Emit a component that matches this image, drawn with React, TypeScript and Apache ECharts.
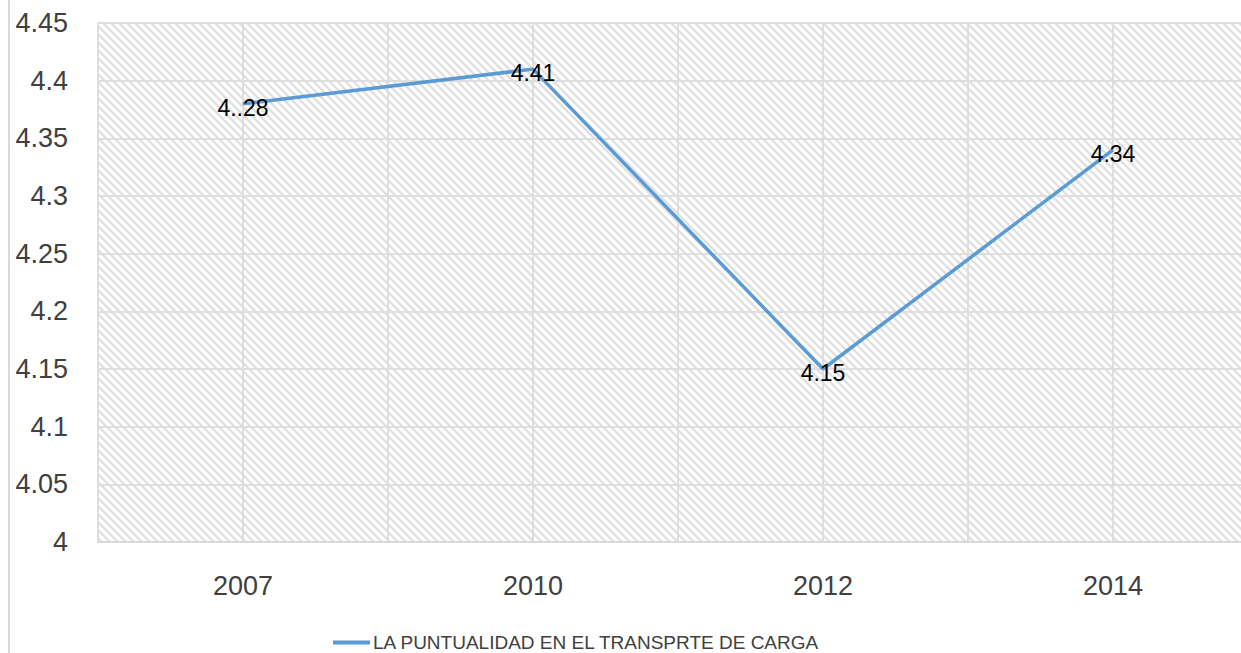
import React, { useEffect, useRef } from "react";
import * as echarts from "echarts";

const categories = ["2007", "2010", "2012", "2014"];
const values = [4.38, 4.41, 4.15, 4.34];
const pointLabels = ["4..28", "4.41", "4.15", "4.34"];
const seriesName = "LA PUNTUALIDAD EN EL TRANSPRTE DE CARGA";
const gridLineSlots = ["", "", "", "", "", "", "", ""];

function makeHatch(): string {
  const c = document.createElement("canvas");
  const s = 8;
  c.width = s;
  c.height = s;
  const ctx = c.getContext("2d")!;
  ctx.fillStyle = "#ffffff";
  ctx.fillRect(0, 0, s, s);
  ctx.strokeStyle = "#e0e0e0";
  ctx.lineWidth = 2.3;
  ctx.beginPath();
  ctx.moveTo(-2, -2);
  ctx.lineTo(s + 2, s + 2);
  ctx.moveTo(-2, s - 2);
  ctx.lineTo(2, s + 2);
  ctx.moveTo(s - 2, -2);
  ctx.lineTo(s + 2, 2);
  ctx.stroke();
  return c.toDataURL();
}

export default function App() {
  const ref = useRef<HTMLDivElement>(null);
  useEffect(() => {
    if (!ref.current) return;
    const chart = echarts.init(ref.current, undefined, { renderer: "svg" });
    const hatch = makeHatch();
    const gridLeft = 98;
    const gridTop = 23;
    const gridWidth = 1160;
    const gridHeight = 519;
    chart.setOption({
      animation: false,
      backgroundColor: "#ffffff",
      textStyle: { fontFamily: "'Liberation Sans', Arial, sans-serif" },
      grid: { left: gridLeft, top: gridTop, width: gridWidth, height: gridHeight },
      graphic: [
        {
          type: "rect",
          z: -10,
          silent: true,
          shape: { x: gridLeft, y: gridTop, width: gridWidth, height: gridHeight },
          style: { fill: { image: hatch, repeat: "repeat" } as any },
        },
        {
          type: "line",
          silent: true,
          shape: { x1: 9, y1: 0, x2: 9, y2: 653 },
          style: { stroke: "#d9d9d9", lineWidth: 2 },
        },
      ],
      legend: {
        left: 328,
        top: 628,
        itemWidth: 37,
        itemHeight: 4,
        itemGap: 10,
        textStyle: {
          fontSize: 19,
          color: "#404040",
          padding: [0, 0, 0, -2],
        },
        data: [{ name: seriesName, icon: "rect" }],
      },
      xAxis: [
        {
          type: "category",
          data: categories,
          boundaryGap: true,
          axisLine: { show: true, lineStyle: { color: "#d9d9d9", width: 2 } },
          axisTick: { show: false },
          splitLine: { show: false },
          axisLabel: { color: "#404040", fontSize: 27, margin: 30 },
        },
        {
          type: "category",
          data: gridLineSlots,
          boundaryGap: true,
          position: "bottom",
          show: true,
          axisLine: { show: false },
          axisTick: { show: false },
          axisLabel: { show: false },
          splitLine: { show: true, lineStyle: { color: "#dedede", width: 2 } },
        },
      ],
      yAxis: {
        type: "value",
        min: 4,
        max: 4.45,
        interval: 0.05,
        axisLine: { show: false },
        axisTick: { show: false },
        axisLabel: {
          color: "#404040",
          fontSize: 27,
          margin: 30,
          formatter: (v: number) => String(parseFloat(v.toFixed(2))),
        },
        splitLine: { show: true, lineStyle: { color: "#dedede", width: 2 } },
      },
      series: [
        {
          name: seriesName,
          type: "line",
          xAxisIndex: 0,
          data: values,
          symbol: "circle",
          symbolSize: 1,
          showSymbol: true,
          lineStyle: { color: "#5b9bd5", width: 3.5 },
          itemStyle: { color: "#5b9bd5" },
          label: {
            show: true,
            position: "inside",
            offset: [0, 4],
            color: "#000000",
            fontSize: 23,
            formatter: (p: any) => pointLabels[p.dataIndex],
          },
        },
      ],
    });
    return () => chart.dispose();
  }, []);
  return (
    <div
      style={{
        position: "fixed",
        left: 0,
        top: 0,
        width: 1241,
        height: 653,
        overflow: "hidden",
      }}
    >
      <div ref={ref} style={{ width: 1280, height: 653 }} />
    </div>
  );
}
